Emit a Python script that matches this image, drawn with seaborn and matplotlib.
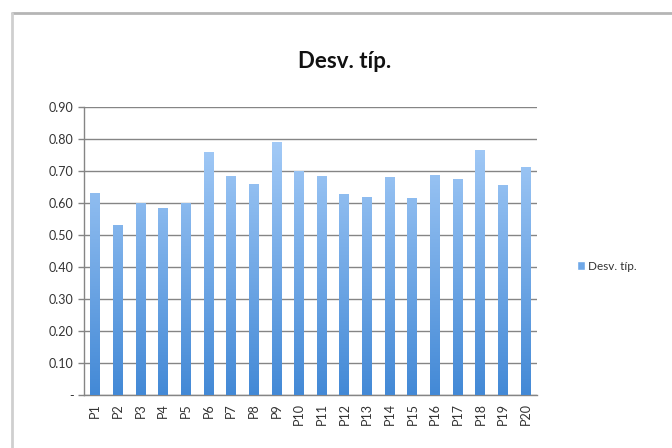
import numpy as np
import pandas as pd
import matplotlib
matplotlib.use("Agg")
import matplotlib.pyplot as plt
import seaborn as sns
from matplotlib.patches import Patch
from matplotlib.lines import Line2D
from matplotlib.ticker import FuncFormatter, MultipleLocator

categories = [f"P{i}" for i in range(1, 21)]
desv_tip = [0.63, 0.53, 0.60, 0.585, 0.60, 0.76, 0.685, 0.66, 0.79, 0.70,
            0.685, 0.628, 0.62, 0.68, 0.615, 0.687, 0.675, 0.765, 0.657, 0.714]
series_name = "Desv. típ."

sns.set_style("white")
plt.rcParams["font.family"] = ["Lato", "DejaVu Sans"]

df = pd.DataFrame({"cat": categories, "val": desv_tip})

fig = plt.figure(figsize=(6.72, 4.48), dpi=100)
ax = fig.add_axes([84/672, 1 - 395/448, (537 - 84)/672, (395 - 107)/448])

sns.barplot(data=df, x="cat", y="val", color="#6fa8e8", width=0.44,
            ax=ax, zorder=3)

# vertical gradient inside each bar
grad = np.linspace(0, 1, 256).reshape(-1, 1)
cmap = matplotlib.colors.LinearSegmentedColormap.from_list(
    "bar", ["#4389d6", "#b0d3fb"])
for p in ax.patches:
    x0, w = p.get_x(), p.get_width()
    im = ax.imshow(grad, extent=[x0, x0 + w, 0, 0.9], origin="lower",
                   cmap=cmap, aspect="auto", zorder=3)
    im.set_clip_path(p)
    p.set_facecolor("none")
    p.set_edgecolor("none")

ax.set_xlim(-0.5, len(categories) - 0.5)
ax.set_ylim(0, 0.9)
ax.yaxis.set_major_locator(MultipleLocator(0.1))
ax.yaxis.set_major_formatter(FuncFormatter(lambda v, _: "-" if abs(v) < 1e-9 else f"{v:.2f}"))
ax.grid(axis="y", color="#858585", linewidth=1.0, zorder=0)
ax.set_axisbelow(True)

for s in ["top", "right"]:
    ax.spines[s].set_visible(False)
for s in ["left", "bottom"]:
    ax.spines[s].set_color("#858585")
    ax.spines[s].set_linewidth(1.0)

ax.set_xlabel("")
ax.set_ylabel("")
ax.set_xticks(range(len(categories)))
ax.set_xticklabels(categories, rotation=90, fontsize=9, color="#333333")
ax.set_xticks(np.arange(-0.5, len(categories)), minor=True)
ax.tick_params(axis="x", which="major", length=0, pad=6)
ax.tick_params(axis="x", which="minor", length=4, color="#858585", width=1)
ax.tick_params(axis="y", which="major", length=4, color="#858585", width=1,
               labelsize=9, labelcolor="#333333", left=True)

fig.text(345/672, 1 - 61/448, series_name, ha="center", va="center",
         fontsize=16, fontweight="bold", color="#111111")

fig.legend(handles=[Patch(facecolor="#6fa8e8", label=series_name)],
           loc="center left", bbox_to_anchor=(566/672, 1 - 266/448),
           frameon=False, fontsize=8.5, handlelength=0.7, handleheight=0.7,
           handletextpad=0.3, labelcolor="#333333")

# chart frame
fig.add_artist(Line2D([12/672, 1], [1 - 13/448] * 2, color="#b5b5b5", lw=2,
                      transform=fig.transFigure))
fig.add_artist(Line2D([12/672] * 2, [0, 1 - 13/448], color="#cfcfcf", lw=2,
                      transform=fig.transFigure))

fig.savefig("out.png", dpi=100)
